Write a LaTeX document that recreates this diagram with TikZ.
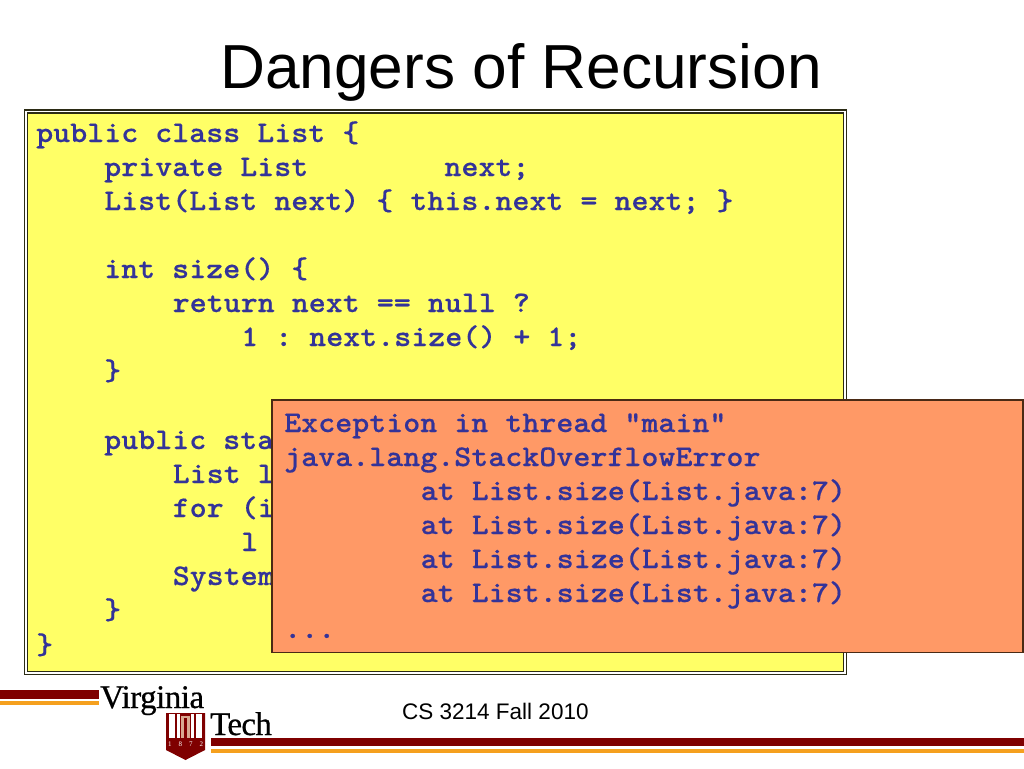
\documentclass[tikz,border=0pt]{standalone}
\usepackage{fontspec}
\setmainfont{Liberation Sans}
\newfontfamily\codefont[Extension=.otf,FakeStretch=1.08,FakeBold=0.4]{lmmonolt10-bold}
\newfontfamily\logoserif[FakeBold=0.6]{Liberation Serif}
\newfontfamily\yearserif{Liberation Serif}
\definecolor{codeblue}{HTML}{333399}
\definecolor{boxyellow}{HTML}{FFFF66}
\definecolor{boxorange}{HTML}{FF9966}
\definecolor{vtmaroon}{HTML}{7F0000}
\definecolor{vtorange}{HTML}{F5A01E}
\definecolor{vtpeach}{HTML}{D8A890}
\definecolor{edgedark}{HTML}{2B2B14}
\definecolor{edgebrown}{HTML}{4A2A14}
\tikzset{
  codeline/.style={anchor=base west,inner sep=0pt,text=codeblue,font=\codefont\fontsize{30}{34}\selectfont\frenchspacing},
}
\begin{document}
\begin{tikzpicture}[x=1pt,y=-1pt]
\useasboundingbox (0,0) rectangle (1024,768);
\fill[white] (0,0) rectangle (1024,768);
% title
\node[anchor=base,inner sep=0pt,font=\fontsize{62.2}{70}\selectfont,text=black] (title) at (521,88) {Dangers of Recursion};
% yellow box
\fill[boxyellow] (27,112) rectangle (844,672);
\draw[edgedark,line width=1.8pt] (24.5,110) rectangle (846.5,674.5);
\draw[edgedark,line width=1.4pt] (27.5,112.8) rectangle (843.5,671.5);
\node[codeline] (c1) at (36,142) {public class List \{};
\node[codeline] (c2) at (104,176) {private List~~~~~~~~next;};
\node[codeline] (c3) at (104,210) {List(List next) \{ this.next = next; \}};
\node[codeline] (c5) at (104,278) {int size() \{};
\node[codeline] (c6) at (172.5,312) {return next == null ?};
\node[codeline] (c7) at (241,346) {1 : next.size() + 1;};
\node[codeline] (c8) at (104,380) {\}};
\node[codeline] (c10) at (104,449) {public sta};
\node[codeline] (c11) at (172.5,483) {List l};
\node[codeline] (c12) at (172.5,517) {for (i};
\node[codeline] (c13) at (241,551) {l};
\node[codeline] (c14) at (172.5,585) {System};
\node[codeline] (c15) at (104,619) {\}};
\node[codeline] (c16) at (36,654) {\}};
% orange box
\fill[boxorange] (272,400) rectangle (1024,652);
\draw[edgebrown,line width=1.8pt] (272,400) rectangle (1023,652.5);
\node[codeline] (e1) at (284,432) {Exception in thread "main"};
\node[codeline] (e2) at (284,466) {java.lang.StackOverflowError};
\node[codeline] (e3) at (420.5,500) {at List.size(List.java:7)};
\node[codeline] (e4) at (420.5,534) {at List.size(List.java:7)};
\node[codeline] (e5) at (420.5,568) {at List.size(List.java:7)};
\node[codeline] (e6) at (420.5,602) {at List.size(List.java:7)};
\node[codeline] (e7) at (284,638) {...};
% footer
\node[anchor=base west,inner sep=0pt,font=\fontsize{22.5}{26}\selectfont,text=black] (foot) at (402,719) {CS 3214 Fall 2010};
% logo bars
\fill[vtmaroon] (0,690) rectangle (99,698.5);
\fill[vtorange] (0,701) rectangle (99,705);
\fill[vtmaroon] (211,738) rectangle (1024,746);
\fill[vtorange] (211,749) rectangle (1024,753);
% logo words
\node[anchor=base west,inner sep=0pt,font=\logoserif\fontsize{33}{34}\selectfont,text=black] (vir) at (100,708) {\addfontfeature{LetterSpace=-1.5}Virginia};
\node[anchor=base west,inner sep=0pt,font=\logoserif\fontsize{33}{34}\selectfont,text=black] (tech) at (210,735) {\addfontfeature{LetterSpace=-2}Tech};
% logo shield
\fill[vtmaroon] (166,713) -- (205,713) -- (205,750) -- (185.5,760) -- (166,750) -- cycle;
\fill[white] (169,714) rectangle (175,738);
\fill[white] (196,714) rectangle (202,738);
\fill[white] (177,714) rectangle (180,738);
\fill[white] (191,714) rectangle (194,738);
\fill[vtpeach] (181,716) rectangle (190,738);
\fill[vtmaroon] (184,718) rectangle (187,738);
\node[anchor=base,inner sep=0pt,text=white,font=\yearserif\fontsize{7}{7}\selectfont] (yr) at (185.5,746) {1~~~~8~~~~7~~~~2};
\end{tikzpicture}
\end{document}
